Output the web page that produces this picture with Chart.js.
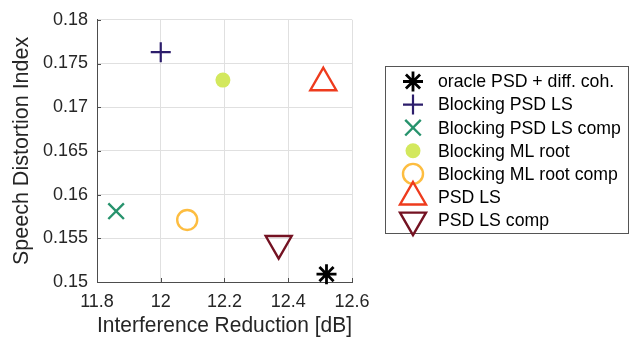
<!DOCTYPE html>
<html>
<head>
<meta charset="utf-8">
<script src="https://cdn.jsdelivr.net/npm/chart.js@4.4.1/dist/chart.umd.min.js"></script>
<style>
  html, body { margin: 0; padding: 0; background: #ffffff; }
  #wrap { width: 631px; height: 339px; position: relative; }
</style>
</head>
<body>
<div id="wrap"><canvas id="chart" width="631" height="339"></canvas></div>
<script>
// Methods compared in the evaluation
const methodNames = [
  'oracle PSD + diff. coh.',
  'Blocking PSD LS',
  'Blocking PSD LS comp',
  'Blocking ML root',
  'Blocking ML root comp',
  'PSD LS',
  'PSD LS comp'
];
// Interference reduction in dB
const interferenceReduction = [12.52, 12.00, 11.86, 12.195, 12.083, 12.51, 12.37];
// Speech distortion index
const speechDistortion = [0.1509, 0.1763, 0.1581, 0.1731, 0.1571, 0.1728, 0.1544];

const xTickValues = [11.8, 12.0, 12.2, 12.4, 12.6];
const xTickLabels = ['11.8', '12', '12.2', '12.4', '12.6'];
const yTickValues = [0.150, 0.155, 0.160, 0.165, 0.170, 0.175, 0.180];
const yTickLabels = ['0.15', '0.155', '0.16', '0.165', '0.17', '0.175', '0.18'];

// Marker appearance per method
const markerStyles = [
  { pointStyle: 'star',     radius: 10,  width: 2.8, stroke: '#000000', fill: '#000000', rotation: 0 },
  { pointStyle: 'cross',    radius: 10,  width: 2.2, stroke: '#2c1d6b', fill: '#2c1d6b', rotation: 0 },
  { pointStyle: 'crossRot', radius: 11,  width: 2.4, stroke: '#27936d', fill: '#27936d', rotation: 0 },
  { pointStyle: 'circle',   radius: 7.5, width: 0,   stroke: '#d3e85d', fill: '#d3e85d', rotation: 0 },
  { pointStyle: 'circle',   radius: 10,  width: 2.4, stroke: '#fdbd40', fill: 'rgba(255,255,255,0)', rotation: 0 },
  { pointStyle: 'triangle', radius: 15,  width: 2.4, stroke: '#ee3b1d', fill: 'rgba(255,255,255,0)', rotation: 0 },
  { pointStyle: 'triangle', radius: 15,  width: 2.4, stroke: '#741222', fill: 'rgba(255,255,255,0)', rotation: 180 }
];

const FONT = '"Liberation Sans", Arial, Helvetica, sans-serif';
const TEXT = '#262626';
const AXIS = '#4d4d4d';

const datasets = methodNames.map((name, i) => ({
  label: name,
  data: [{ x: interferenceReduction[i], y: speechDistortion[i] }],
  pointStyle: markerStyles[i].pointStyle,
  pointRadius: markerStyles[i].radius,
  pointHoverRadius: markerStyles[i].radius,
  pointBorderWidth: markerStyles[i].width,
  pointBorderColor: markerStyles[i].stroke,
  pointBackgroundColor: markerStyles[i].fill,
  pointRotation: markerStyles[i].rotation,
  showLine: false,
  clip: false
}));

// Short tick marks pointing into the plot area
const inwardTicks = {
  id: 'inwardTicks',
  afterDatasetsDraw(chart) {
    const { ctx, chartArea, scales } = chart;
    const len = 4;
    ctx.save();
    ctx.strokeStyle = AXIS;
    ctx.lineWidth = 1;
    ctx.beginPath();
    xTickValues.forEach(v => {
      const px = Math.round(scales.x.getPixelForValue(v)) + 0.5;
      ctx.moveTo(px, chartArea.bottom);
      ctx.lineTo(px, chartArea.bottom - len);
    });
    yTickValues.forEach(v => {
      const py = Math.round(scales.y.getPixelForValue(v)) + 0.5;
      ctx.moveTo(chartArea.left, py);
      ctx.lineTo(chartArea.left + len, py);
    });
    ctx.stroke();
    ctx.restore();
  }
};

// Boxed legend to the right of the axes
const boxedLegend = {
  id: 'boxedLegend',
  afterDraw(chart) {
    const ctx = chart.ctx;
    const box = { x: 385.5, y: 66.5, w: 243, h: 167 };
    const markerX = 413;
    const textX = 438;
    const firstY = 81.5;
    const step = 23.1;
    ctx.save();
    ctx.fillStyle = '#ffffff';
    ctx.fillRect(box.x, box.y, box.w, box.h);
    ctx.strokeStyle = '#555555';
    ctx.lineWidth = 1;
    ctx.strokeRect(box.x, box.y, box.w, box.h);
    ctx.font = '17.7px ' + FONT;
    ctx.textBaseline = 'middle';
    ctx.textAlign = 'left';
    chart.data.datasets.forEach((ds, i) => {
      const y = firstY + i * step;
      const m = markerStyles[i];
      ctx.save();
      ctx.strokeStyle = m.stroke;
      ctx.fillStyle = m.fill;
      ctx.lineWidth = m.width;
      Chart.helpers.drawPoint(ctx, {
        pointStyle: m.pointStyle,
        radius: m.radius,
        rotation: m.rotation,
        borderWidth: m.width
      }, markerX, y);
      ctx.restore();
      ctx.fillStyle = '#000000';
      ctx.fillText(ds.label, textX, y + 1);
    });
    ctx.restore();
  }
};

new Chart(document.getElementById('chart'), {
  type: 'scatter',
  data: { datasets },
  options: {
    responsive: false,
    animation: false,
    devicePixelRatio: 1,
    layout: { padding: { left: 0, top: 17, right: 279, bottom: 0 } },
    plugins: {
      legend: { display: false },
      tooltip: { enabled: false }
    },
    scales: {
      x: {
        type: 'linear',
        min: 11.8,
        max: 12.6,
        afterBuildTicks(scale) { scale.ticks = xTickValues.map(v => ({ value: v })); },
        afterFit(scale) { scale.height = 57; },
        ticks: {
          callback: (value, index) => xTickLabels[index],
          font: { family: FONT, size: 18 },
          color: TEXT,
          padding: 9,
          maxRotation: 0
        },
        grid: { color: '#e0e0e0', lineWidth: 1, drawTicks: false },
        border: { display: true, color: AXIS, width: 1 },
        title: {
          display: true,
          text: 'Interference Reduction [dB]',
          font: { family: FONT, size: 21.5 },
          color: TEXT,
          padding: { top: 0, bottom: 0 }
        }
      },
      y: {
        type: 'linear',
        min: 0.15,
        max: 0.18,
        afterBuildTicks(scale) { scale.ticks = yTickValues.map(v => ({ value: v })); },
        afterFit(scale) { scale.width = 97; },
        ticks: {
          callback: (value, index) => yTickLabels[index],
          font: { family: FONT, size: 18 },
          color: TEXT,
          padding: 9
        },
        grid: { color: '#e0e0e0', lineWidth: 1, drawTicks: false },
        border: { display: true, color: AXIS, width: 1 },
        title: {
          display: true,
          text: 'Speech Distortion Index',
          font: { family: FONT, size: 21.5 },
          color: TEXT,
          padding: { top: 9, bottom: 0 }
        }
      }
    }
  },
  plugins: [inwardTicks, boxedLegend]
});
</script>
</body>
</html>
